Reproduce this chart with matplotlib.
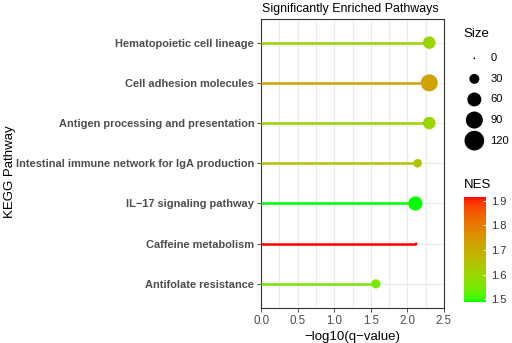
import matplotlib
matplotlib.use("Agg")
import matplotlib.pyplot as plt
import numpy as np
from matplotlib.colors import ListedColormap, Normalize

plt.rcParams['font.family'] = ['Liberation Sans', 'DejaVu Sans']

pathways = ["Hematopoietic cell lineage", "Cell adhesion molecules",
            "Antigen processing and presentation",
            "Intestinal immune network for IgA production",
            "IL\u221217 signaling pathway", "Caffeine metabolism",
            "Antifolate resistance"]
qvals = [2.30, 2.30, 2.30, 2.14, 2.11, 2.12, 1.57]
sizes = [48, 90, 48, 22, 62, 1, 25]
nes = [1.60, 1.72, 1.60, 1.65, 1.49, 1.915, 1.55]
size_breaks = [0, 30, 60, 90, 120]
nes_ticks = [1.5, 1.6, 1.7, 1.8, 1.9]


# green -> red in Lab space, like ggplot's gradient
def srgb_to_lab(rgb):
    c = np.asarray(rgb, float)
    c = np.where(c > 0.04045, ((c + 0.055) / 1.055) ** 2.4, c / 12.92)
    m = np.array([[0.4124, 0.3576, 0.1805], [0.2126, 0.7152, 0.0722], [0.0193, 0.1192, 0.9505]])
    xyz = m @ c / np.array([0.95047, 1.0, 1.08883])
    f = np.where(xyz > 0.008856, np.cbrt(xyz), 7.787 * xyz + 16 / 116)
    return np.array([116 * f[1] - 16, 500 * (f[0] - f[1]), 200 * (f[1] - f[2])])


def lab_to_srgb(lab):
    L, a, b = lab
    fy = (L + 16) / 116
    f = np.array([fy + a / 500, fy, fy - b / 200])
    xyz = np.where(f ** 3 > 0.008856, f ** 3, (f - 16 / 116) / 7.787) * np.array([0.95047, 1.0, 1.08883])
    m = np.array([[3.2406, -1.5372, -0.4986], [-0.9689, 1.8758, 0.0415], [0.0557, -0.2040, 1.0570]])
    c = m @ xyz
    c = np.where(c > 0.0031308, 1.055 * np.clip(c, 0, None) ** (1 / 2.4) - 0.055, 12.92 * c)
    return np.clip(c, 0, 1)


lo, hi = srgb_to_lab([0, 1, 0]), srgb_to_lab([1, 0, 0])
cmap = ListedColormap([lab_to_srgb(lo + t * (hi - lo)) for t in np.linspace(0, 1, 256)])
norm = Normalize(vmin=1.49, vmax=1.915)


def msize(s):
    d_px = np.sqrt(3 + 3.2 * np.asarray(s, float))
    return (d_px * 0.72) ** 2


fig = plt.figure(figsize=(5.12, 3.43), dpi=100)
ax = fig.add_axes([0.51, 0.102, 0.357, 0.844])

y = np.arange(len(pathways))[::-1] + 1
cols = cmap(norm(nes))
ax.hlines(y, 0, qvals, colors=cols, linewidth=1.8, zorder=3)
ax.scatter(qvals, y, s=msize(sizes), c=cols, zorder=4, linewidths=0)

ax.set_xlim(0, 2.5)
ax.set_ylim(0.4, 7.6)
ax.set_xticks([0, 0.5, 1.0, 1.5, 2.0, 2.5])
ax.set_xticklabels(["0.0", "0.5", "1.0", "1.5", "2.0", "2.5"])
ax.set_xticks(np.arange(0.25, 2.5, 0.5), minor=True)
ax.set_yticks(y)
ax.set_yticklabels(pathways, fontweight='bold')
ax.grid(True, which='both', color='#EBEBEB', linewidth=0.8, zorder=0)
ax.set_axisbelow(True)
for sp in ax.spines.values():
    sp.set_color('#333333')
    sp.set_linewidth(0.8)
ax.tick_params(axis='y', which='major', labelsize=7.9)
ax.tick_params(axis='x', which='major', labelsize=8.3)
ax.tick_params(axis='both', which='major', colors='#333333', length=3, width=0.6, pad=2)
ax.tick_params(axis='both', which='minor', length=0)
for lab in ax.get_xticklabels() + ax.get_yticklabels():
    lab.set_color('#4D4D4D')
ax.set_xlabel("\u2212log10(q\u2212value)", fontsize=9.5, labelpad=3)
fig.text(0.02, 0.5, "KEGG Pathway", rotation=90, va='center', ha='center', fontsize=9.5)
fig.text(0.511, 0.975, "Significantly Enriched Pathways", ha='left', va='center', fontsize=8.9)

# size legend
fig.text(0.906, 0.9, "Size", fontsize=9.5, va='center')
lax = fig.add_axes([0.9, 0.56, 0.1, 0.3])
ly = np.arange(len(size_breaks))[::-1]
lax.scatter([0] * len(size_breaks), ly, s=msize(size_breaks), c='black', linewidths=0)
for yy, b in zip(ly, size_breaks):
    lax.text(1.05, yy, str(b), va='center', fontsize=8)
lax.set_xlim(-0.9, 2.5)
lax.set_ylim(-0.5, 4.5)
lax.axis('off')

# colour bar
fig.text(0.906, 0.46, "NES", fontsize=9.5, va='center')
cax = fig.add_axes([0.906, 0.12, 0.043, 0.306])
sm = plt.cm.ScalarMappable(norm=norm, cmap=cmap)
cb = fig.colorbar(sm, cax=cax, ticks=nes_ticks)
cb.outline.set_visible(False)
cax.tick_params(direction='in', color='white', length=2.5, width=0.6, labelsize=8, labelcolor='#333333', pad=4)
cax.set_yticklabels([f"{t:.1f}" for t in nes_ticks])

fig.savefig("out.png", dpi=100)
